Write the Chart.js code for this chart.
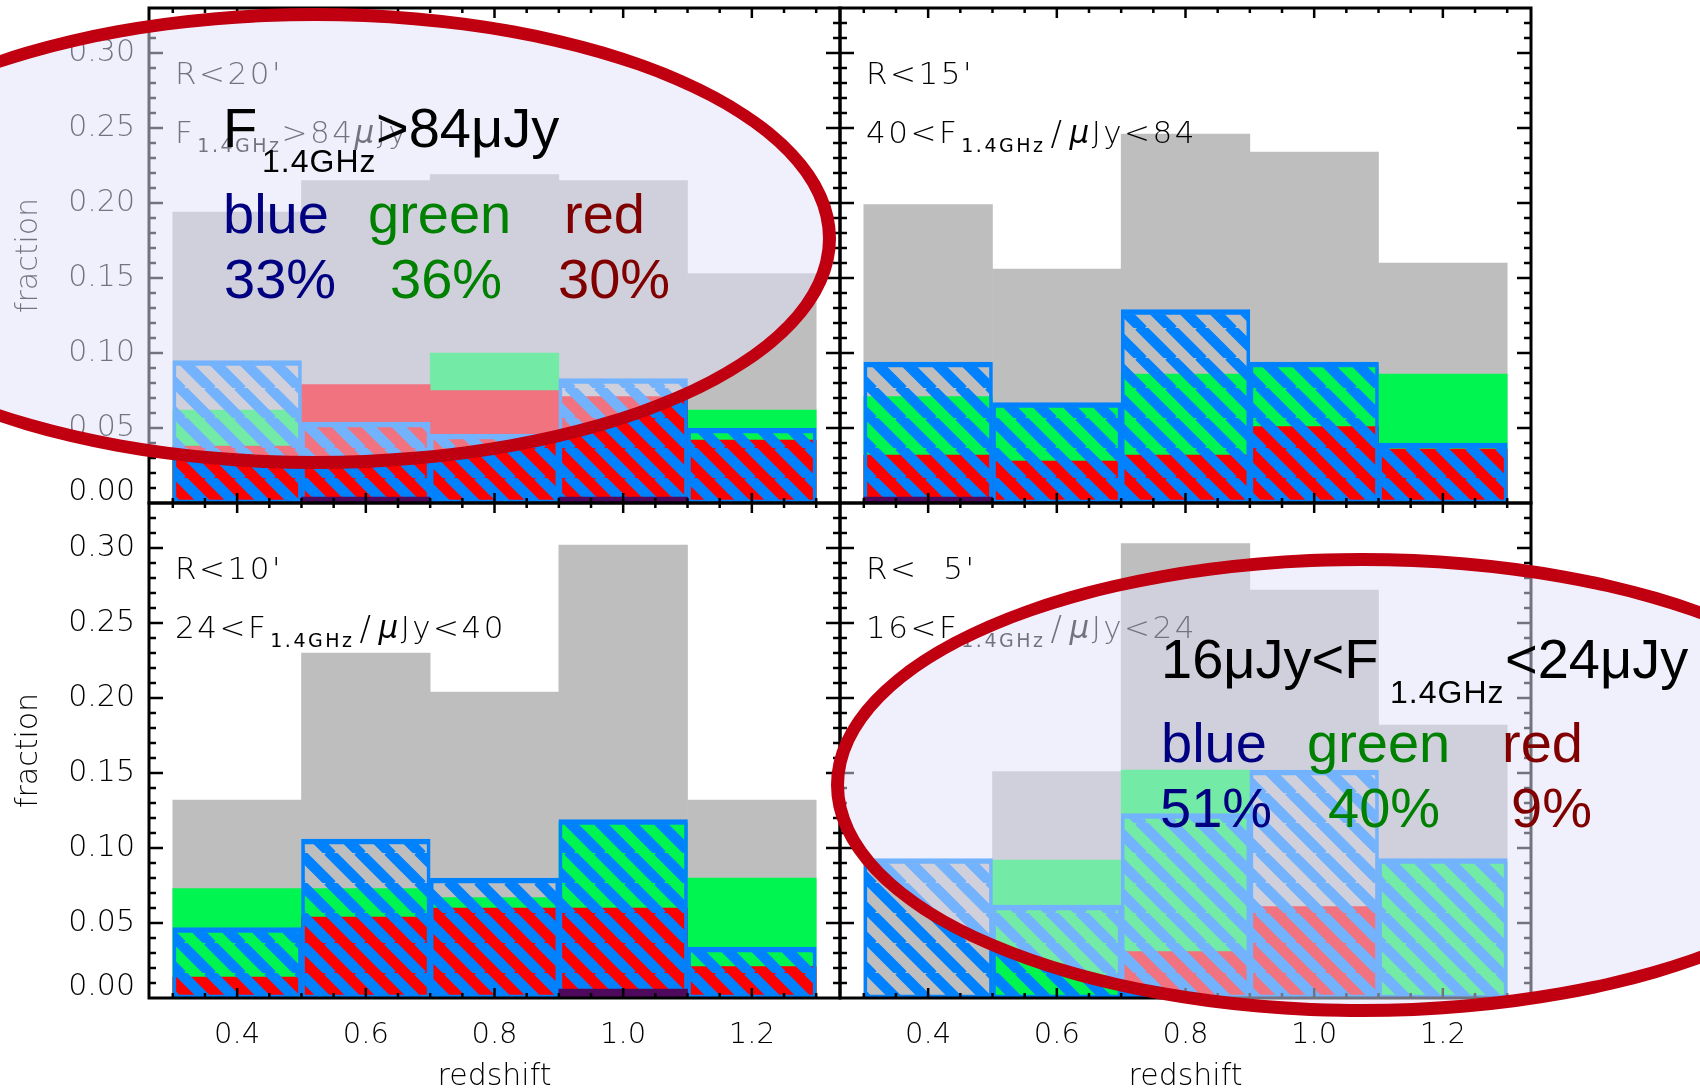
<!DOCTYPE html>
<html>
<head>
<meta charset="utf-8">
<title>Colour fractions of radio sources vs redshift</title>
<script src="https://cdn.jsdelivr.net/npm/chart.js@4.4.1/dist/chart.umd.min.js"></script>
<style>
  html, body { margin: 0; padding: 0; background: #fff; }
  #page { position: relative; width: 1700px; height: 1090px; overflow: hidden; background: #fff; }
  #page canvas { position: absolute; }
  .oval {
    position: absolute;
    box-sizing: border-box;
    border-radius: 50%;
    border: 13px solid rgb(192, 0, 16);
    background: rgba(225, 225, 249, 0.51);
  }
  .note {
    position: absolute;
    font-family: 'Liberation Sans', Arial, sans-serif;
    white-space: nowrap;
  }
</style>
</head>
<body>
<div id="page">
  <canvas id="pR20" width="850" height="597" style="left:0px;top:-2px"></canvas>
  <canvas id="pR15" width="850" height="597" style="left:691px;top:-2px"></canvas>
  <canvas id="pR10" width="850" height="597" style="left:0px;top:493px"></canvas>
  <canvas id="pR5" width="850" height="597" style="left:691px;top:493px"></canvas>
</div>
<script>
// redshift bins (centres, width 0.2) and axis ticks
const zBins = [0.4, 0.6, 0.8, 1.0, 1.2];
const zTicks = [0.4, 0.6, 0.8, 1.0, 1.2];
const fracTicks = [0, 0.05, 0.10, 0.15, 0.20, 0.25, 0.30];

// R<20', F > 84 uJy
const allR20 = [0.194, 0.215, 0.219, 0.215, 0.153];
const greenR20 = [0.062, 0.078, 0.100, 0.056, 0.062];
const redR20 = [0.038, 0.079, 0.075, 0.071, 0.042];
const blueR20 = [0.095, 0.054, 0.046, 0.083, 0.050];
const otherR20 = [0, 0.004, 0, 0.004, 0];

// R<15', 40 < F < 84 uJy
const allR15 = [0.199, 0.156, 0.246, 0.234, 0.160];
const greenR15 = [0.071, 0.064, 0.086, 0.091, 0.086];
const redR15 = [0.032, 0.028, 0.032, 0.051, 0.036];
const blueR15 = [0.094, 0.067, 0.129, 0.094, 0.040];
const otherR15 = [0.004, 0, 0, 0, 0];

// R<10', 24 < F < 40 uJy
const allR10 = [0.132, 0.230, 0.204, 0.302, 0.132];
const greenR10 = [0.073, 0.073, 0.067, 0.117, 0.080];
const redR10 = [0.014, 0.054, 0.060, 0.060, 0.021];
const blueR10 = [0.047, 0.106, 0.080, 0.119, 0.034];
const otherR10 = [0, 0, 0, 0.006, 0];

// R<5', 16 < F < 24 uJy
const allR5 = [0.091, 0.151, 0.303, 0.272, 0.182];
const greenR5 = [0, 0.092, 0.152, 0.059, 0.091];
const redR5 = [0, 0, 0.031, 0.061, 0];
const blueR5 = [0.093, 0.062, 0.123, 0.152, 0.093];
const otherR5 = [0, 0, 0, 0, 0];

// colour split quoted in the two callouts
const splitR20 = ['33%', '36%', '30%'];
const splitR5 = ['51%', '40%', '9%'];

const AXIS_FONT = "'DejaVu Sans', sans-serif";
const GRAY = 'rgb(190,190,190)';
const GREEN = 'rgb(0,245,80)';
const RED = 'rgb(255,0,0)';
const BLUE = 'rgb(0,130,255)';
const PURPLE = 'rgb(78,8,92)';

// blue diagonal hatching with see-through gaps
const makeHatch = () => {
  const size = 30;
  const tile = document.createElement('canvas');
  tile.width = size;
  tile.height = size;
  const t = tile.getContext('2d');
  t.strokeStyle = BLUE;
  t.lineWidth = 10.5;
  t.beginPath();
  for (const x0 of [-size, 0, size]) {
    t.moveTo(x0 - 2, -2);
    t.lineTo(x0 + size + 2, size + 2);
  }
  t.stroke();
  return t.createPattern(tile, 'repeat');
};
const hatch = makeHatch();

const toPoints = (vals) => vals.map((v, i) => ({ x: zBins[i], y: v }));

// box with inward ticks on all four sides
const frameTicks = {
  id: 'frameTicks',
  afterDatasetsDraw(chart) {
    const { ctx, chartArea: a, scales: { x, y } } = chart;
    ctx.save();
    ctx.strokeStyle = '#000';
    ctx.lineWidth = 2.5;
    ctx.beginPath();
    for (let k = 1; k <= 32; k++) {
      const py = y.getPixelForValue(k / 100);
      const len = k % 5 === 0 ? 14 : 7;
      ctx.moveTo(a.left, py); ctx.lineTo(a.left + len, py);
      ctx.moveTo(a.right, py); ctx.lineTo(a.right - len, py);
    }
    for (let k = 6; k <= 26; k++) {
      const px = x.getPixelForValue(k * 0.05);
      const len = k % 4 === 0 ? 10 : 5;
      ctx.moveTo(px, a.bottom); ctx.lineTo(px, a.bottom - len);
      ctx.moveTo(px, a.top); ctx.lineTo(px, a.top + len);
    }
    ctx.stroke();
    ctx.lineWidth = 3;
    ctx.strokeRect(a.left, a.top, a.width, a.height);
    ctx.restore();
  }
};

// radius and flux-range legend in the upper left of each panel
const panelText = {
  id: 'panelText',
  afterDatasetsDraw(chart, args, opts) {
    const { ctx, chartArea: a } = chart;
    ctx.save();
    ctx.fillStyle = '#000';
    ctx.textBaseline = 'alphabetic';
    ctx.letterSpacing = '2.5px';
    ctx.font = `200 31px ${AXIS_FONT}`;
    ctx.fillText(opts.tag, a.left + 26, a.top + 76);

    let x = a.left + 26;
    const base = a.top + 135;
    opts.flux.forEach(([txt, kind]) => {
      if (kind === 'sub') {
        ctx.font = `400 19px ${AXIS_FONT}`;
        ctx.fillText(txt, x + 2, base + 9);
        x += ctx.measureText(txt).width + 2;
      } else if (kind === 'it') {
        ctx.font = `italic 200 31px ${AXIS_FONT}`;
        ctx.fillText(txt, x, base);
        x += ctx.measureText(txt).width;
      } else if (txt === '/') {
        ctx.font = `200 34px ${AXIS_FONT}`;
        ctx.fillText(txt, x + 5, base + 2);
        x += ctx.measureText(txt).width + 10;
      } else {
        ctx.font = `200 31px ${AXIS_FONT}`;
        ctx.fillText(txt, x, base);
        x += ctx.measureText(txt).width;
      }
    });
    ctx.restore();
  }
};

const makePanel = (id, s, tag, flux, showX, showY) => {
  new Chart(document.getElementById(id), {
    type: 'bar',
    data: {
      datasets: [
        { label: 'all', data: toPoints(s.all), backgroundColor: GRAY, order: 5 },
        { label: 'green', data: toPoints(s.green), backgroundColor: GREEN, order: 4 },
        { label: 'red', data: toPoints(s.red), backgroundColor: RED, order: 3 },
        {
          label: 'blue', data: toPoints(s.blue), backgroundColor: hatch,
          borderColor: BLUE, borderWidth: { top: 5, bottom: 3, left: 3, right: 3 },
          borderSkipped: false, order: 2
        },
        { label: 'other', data: toPoints(s.other), backgroundColor: PURPLE, order: 1 }
      ]
    },
    options: {
      responsive: false,
      animation: false,
      events: [],
      layout: { padding: { left: 0, top: 10, right: 10, bottom: 0 } },
      datasets: { bar: { grouped: false, barPercentage: 1, categoryPercentage: 1 } },
      plugins: {
        legend: { display: false },
        tooltip: { enabled: false },
        panelText: { tag, flux }
      },
      scales: {
        x: {
          type: 'linear',
          offset: false,
          min: 0.263,
          max: 1.337,
          grid: { display: false, drawTicks: false, offset: false },
          border: { display: false },
          afterBuildTicks: (axis) => { axis.ticks = zTicks.map((v) => ({ value: v })); },
          afterFit: (axis) => { axis.height = 92; axis.paddingLeft = 0; axis.paddingRight = 0; },
          ticks: {
            display: showX,
            color: '#000',
            padding: 20,
            font: { family: AXIS_FONT, size: 29, weight: 200 },
            callback: (v) => v.toFixed(1)
          },
          title: {
            display: showX,
            text: 'redshift',
            color: '#000',
            font: { family: AXIS_FONT, size: 30, weight: 200, lineHeight: 0.87 },
            padding: { top: 0, bottom: 0 }
          }
        },
        y: {
          min: 0,
          max: 0.33,
          grid: { display: false, drawTicks: false },
          border: { display: false },
          afterBuildTicks: (axis) => { axis.ticks = fracTicks.map((v) => ({ value: v })); },
          afterFit: (axis) => { axis.width = 149; axis.paddingTop = 0; axis.paddingBottom = 0; },
          ticks: {
            display: showY,
            color: '#000',
            padding: 14,
            font: (c) => ({
              family: AXIS_FONT, size: 30, weight: 200,
              lineHeight: c.tick && c.tick.value === 0 ? 0.7 : 1.2
            }),
            callback: (v) => (v === 0 ? ['0.00', ''] : v.toFixed(2))
          },
          title: {
            display: showY,
            text: 'fraction',
            color: '#000',
            font: { family: AXIS_FONT, size: 30, weight: 200 },
            padding: { top: 11, bottom: 0 }
          }
        }
      }
    },
    plugins: [frameTicks, panelText]
  });
};

makePanel('pR20', { all: allR20, green: greenR20, red: redR20, blue: blueR20, other: otherR20 },
  "R<20'", [['F'], ['1.4GHz', 'sub'], ['>84'], ['\u03bc', 'it'], ['Jy']], false, true);
makePanel('pR15', { all: allR15, green: greenR15, red: redR15, blue: blueR15, other: otherR15 },
  "R<15'", [['40<F'], ['1.4GHz', 'sub'], ['/'], ['\u03bc', 'it'], ['Jy<84']], false, false);
makePanel('pR10', { all: allR10, green: greenR10, red: redR10, blue: blueR10, other: otherR10 },
  "R<10'", [['24<F'], ['1.4GHz', 'sub'], ['/'], ['\u03bc', 'it'], ['Jy<40']], true, true);
makePanel('pR5', { all: allR5, green: greenR5, red: redR5, blue: blueR5, other: otherR5 },
  "R<  5'", [['16<F'], ['1.4GHz', 'sub'], ['/'], ['\u03bc', 'it'], ['Jy<24']], true, false);

// the two highlighted callouts drawn over the panels
const page = document.getElementById('page');
const addOval = (left, top, w, h) => {
  const d = document.createElement('div');
  d.className = 'oval';
  Object.assign(d.style, { left: left + 'px', top: top + 'px', width: w + 'px', height: h + 'px' });
  page.appendChild(d);
};
const addNote = (text, left, baseline, size, color, spacing = 0) => {
  const d = document.createElement('div');
  d.className = 'note';
  d.textContent = text;
  Object.assign(d.style, {
    left: left + 'px',
    top: (baseline - 0.8465 * size) + 'px',
    fontSize: size + 'px',
    lineHeight: size + 'px',
    color,
    letterSpacing: spacing + 'px'
  });
  page.appendChild(d);
};

const NAVY = '#000080', DKGREEN = '#008000', MAROON = '#800000';

addOval(-206, 8, 1042, 461);
addNote('F', 223, 147, 56, '#000');
addNote('1.4GHz', 262, 172, 32, '#000', 1);
addNote('>84\u03bcJy', 376, 147, 56, '#000');
addNote('blue', 223, 233, 56, NAVY);
addNote('green', 368, 233, 56, DKGREEN);
addNote('red', 564, 233, 56, MAROON);
addNote(splitR20[0], 224, 298, 56, NAVY);
addNote(splitR20[1], 390, 298, 56, DKGREEN);
addNote(splitR20[2], 558, 298, 56, MAROON);

addOval(831, 553, 1062, 464);
addNote('16\u03bcJy<F', 1161, 678, 56, '#000');
addNote('1.4GHz', 1390, 703, 32, '#000', 1);
addNote('<24\u03bcJy', 1505, 678, 56, '#000');
addNote('blue', 1161, 762, 56, NAVY);
addNote('green', 1307, 762, 56, DKGREEN);
addNote('red', 1502, 762, 56, MAROON);
addNote(splitR5[0], 1160, 827, 56, NAVY);
addNote(splitR5[1], 1328, 827, 56, DKGREEN);
addNote(splitR5[2], 1511, 827, 56, MAROON);
</script>
</body>
</html>
